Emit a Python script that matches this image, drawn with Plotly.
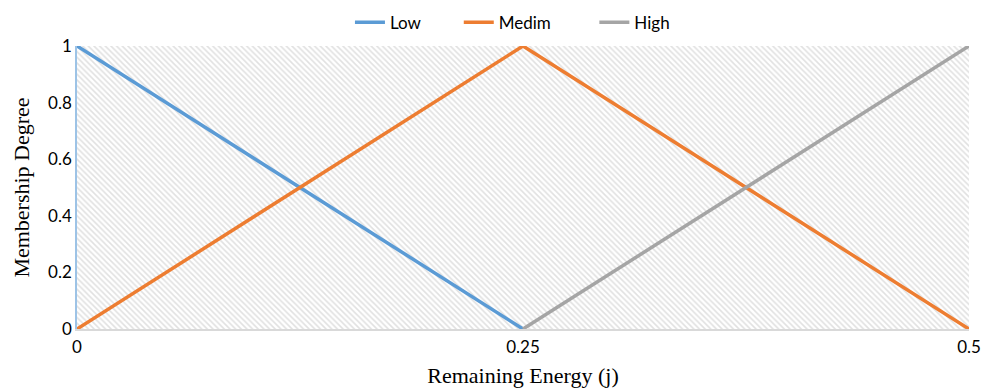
import plotly.graph_objects as go

# Membership functions over remaining energy
energy = [0, 0.25, 0.5]
low = [1, 0, None]
medium = [0, 1, 0]
high = [None, 0, 1]

series = [
    ("Low", low, "#5b9bd5", "legend", 0.306),
    ("Medim", medium, "#ed7d31", "legend2", 0.428),
    ("High", high, "#a5a5a5", "legend3", 0.580),
]

x_range = [0, 0.5]
y_range = [0, 1]

fig = go.Figure()

# hatched plot-area background
fig.add_trace(go.Scatter(
    x=[x_range[0], x_range[1], x_range[1], x_range[0], x_range[0]],
    y=[y_range[0], y_range[0], y_range[1], y_range[1], y_range[0]],
    mode="lines", line=dict(width=0), fill="toself",
    fillcolor="white",
    fillpattern=dict(shape="\\", fgcolor="#c4c4c4", bgcolor="white", size=4, solidity=0.4),
    hoverinfo="skip", showlegend=False,
))

legends = {}
for name, vals, color, leg, lx in series:
    fig.add_trace(go.Scatter(
        x=energy, y=vals, mode="lines", name=name,
        line=dict(color=color, width=3.5),
        connectgaps=False, legend=leg,
    ))
    legends[leg] = dict(orientation="h", x=lx, xanchor="left", y=1.082, yanchor="middle",
                        font=dict(size=17), bgcolor="rgba(0,0,0,0)")

serif = "Liberation Serif, Times New Roman, serif"

fig.update_layout(
    width=983, height=391,
    margin=dict(l=77, r=14, t=46, b=62, autoexpand=False),
    paper_bgcolor="white", plot_bgcolor="white",
    font=dict(family="Lato, Open Sans, sans-serif", size=17, color="#000000"),
    **legends,
    xaxis=dict(
        range=x_range,
        tickvals=[0, 0.125, 0.25, 0.375, 0.5],
        ticktext=["0", "", "0.25", "", "0.5"],
        showgrid=True, gridcolor="#e0e0e0", gridwidth=1,
        showline=True, linecolor="#d9d9d9", linewidth=1.5,
        zeroline=False, ticks="", ticklabelstandoff=2, automargin=False,
        title=dict(text="Remaining Energy (j)", font=dict(family=serif, size=22), standoff=11),
    ),
    yaxis=dict(
        range=y_range,
        tickvals=[0, 0.2, 0.4, 0.6, 0.8, 1],
        ticktext=["0", "0.2", "0.4", "0.6", "0.8", "1"],
        showgrid=True, gridcolor="#e0e0e0", gridwidth=1,
        showline=True, linecolor="#9dc3e6", linewidth=1.5,
        zeroline=False, ticks="", automargin=False,
        title=dict(text="Membership Degree", font=dict(family=serif, size=22), standoff=12),
    ),
)

fig.write_html("out.html")
